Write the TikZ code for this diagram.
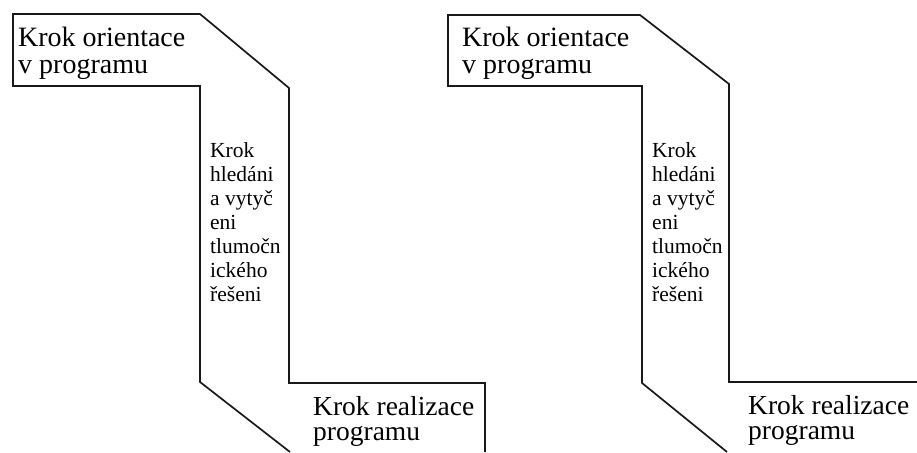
\documentclass[tikz,border=0pt]{standalone}
\usepackage{fontspec}
\setmainfont{Liberation Serif}
\newfontfamily\diagfont{Liberation Serif}
\begin{document}
\begin{tikzpicture}[x=1pt,y=-1pt,
  outline/.style={draw=black!90,line width=1.7pt,line join=miter},
  bigtxt/.style={anchor=base west,inner sep=0pt,font=\diagfont\fontsize{28}{26}\selectfont},
  smalltxt/.style={anchor=base west,inner sep=0pt,font=\diagfont\fontsize{21.5}{24}\selectfont},
  lowtxt/.style={anchor=base west,inner sep=0pt,font=\diagfont\fontsize{27.5}{25}\selectfont}]
\useasboundingbox (0,0) rectangle (917,452);
% left figure
\draw[outline] (485,452) -- (485,383) -- (289,383) -- (289,88) -- (200,14) -- (13,14)
  -- (13,86) -- (200,86) -- (200,382) -- (290,452);
\node[bigtxt] (lt) at (18,47) {\vtop{\lineskiplimit=-100pt\hbox{Krok orientace}\hbox{v programu}}};
\node[smalltxt] (lm) at (210,157) {\vtop{\lineskiplimit=-100pt\hbox{Krok}\hbox{hledáni}\hbox{a vytyč}\hbox{eni}\hbox{tlumočn}\hbox{ického}\hbox{řešeni}}};
\node[lowtxt] (lb) at (313,415) {\vtop{\lineskiplimit=-100pt\hbox{Krok realizace}\hbox{programu}}};
% right figure
\draw[outline] (917,382) -- (729,382) -- (729,84) -- (640,15) -- (448,15)
  -- (448,86) -- (642,86) -- (642,383) -- (727,452);
\node[bigtxt] (rt) at (462,47) {\vtop{\lineskiplimit=-100pt\hbox{Krok orientace}\hbox{v programu}}};
\node[smalltxt] (rm) at (652,157) {\vtop{\lineskiplimit=-100pt\hbox{Krok}\hbox{hledáni}\hbox{a vytyč}\hbox{eni}\hbox{tlumočn}\hbox{ického}\hbox{řešeni}}};
\node[lowtxt] (rb) at (748,414) {\vtop{\lineskiplimit=-100pt\hbox{Krok realizace}\hbox{programu}}};
\end{tikzpicture}
\end{document}
